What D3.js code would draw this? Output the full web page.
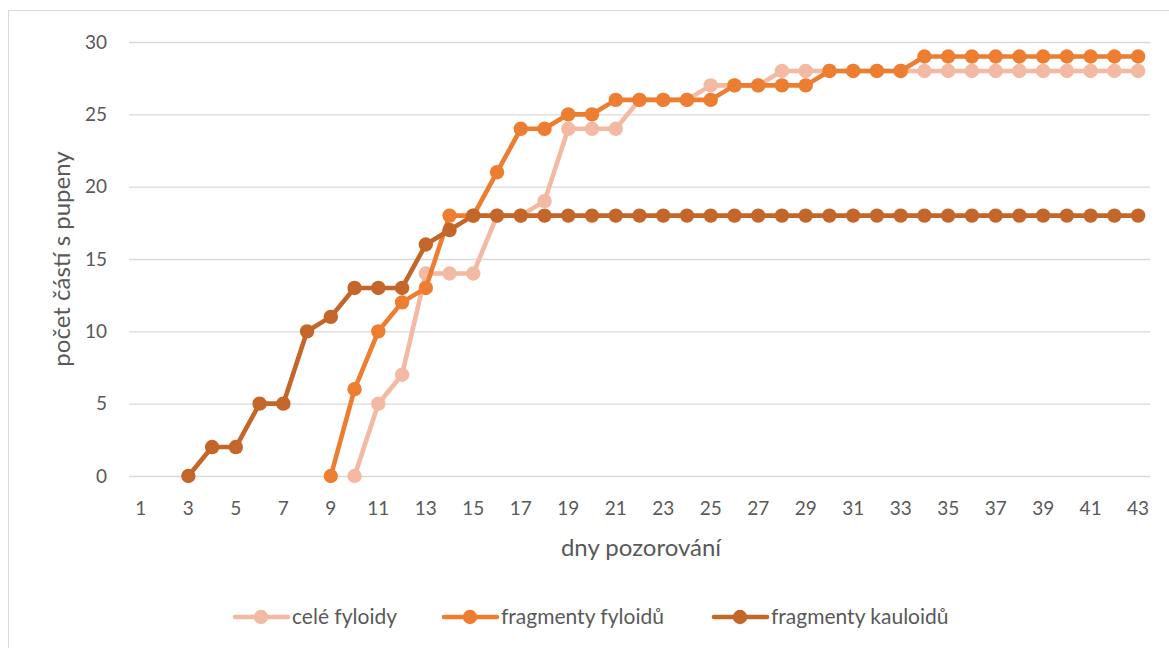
<!DOCTYPE html>
<html>
<head>
<meta charset="utf-8">
<script src="https://cdn.jsdelivr.net/npm/d3@7"></script>
<style>
body{margin:0;background:#fff;}
text{font-family:Lato,"Open Sans",sans-serif;fill:#595959;}
</style>
</head>
<body>
<svg width="1169" height="648"></svg>
<script>
// days 1..43
var days=[];
for(var d=1; d<=43; d++){ days.push(d); }
var yTicks=[0,5,10,15,20,25,30];

// values start at the given day, nothing before
var celeStart=10;
var celeVals=[0,5,7,14,14,14,18,18,19,24,24,24,26,26,26,27,27,27,28,28,28,28,28,28,28,28,28,28,28,28,28,28,28,28];
var fyloStart=9;
var fyloVals=[0,6,10,12,13,18,18,21,24,24,25,25,26,26,26,26,26,27,27,27,27,28,28,28,28,29,29,29,29,29,29,29,29,29,29];
var kauloStart=3;
var kauloVals=[0,2,2,5,5,10,11,13,13,13,16,17,18,18,18,18,18,18,18,18,18,18,18,18,18,18,18,18,18,18,18,18,18,18,18,18,18,18,18,18,18];

var names=["celé fyloidy","fragmenty fyloidů","fragmenty kauloidů"];
var colors=["#F4B9A2","#ED7D31","#C4662A"];

function toPoints(start,vals){
    var pts=[];
    for(var i=0;i<vals.length;i++){
        pts.push({day:start+i,v:vals[i]});
    }
    return pts;
}
var series=[toPoints(celeStart,celeVals),toPoints(fyloStart,fyloVals),toPoints(kauloStart,kauloVals)];

var svg=d3.select("svg");
// outer border
svg.append("rect")
    .attr("x",8.5).attr("y",10.5).attr("width",1170).attr("height",650)
    .attr("fill","none").attr("stroke","#D9D9D9");

var x=d3.scaleBand().domain(days).range([129,1150]);
var y=d3.scaleLinear().domain([0,30]).range([476,42]);
var cx=function(d){return x(d)+x.bandwidth()/2;};

// grid
svg.append("g").selectAll("line").data(yTicks).enter().append("line")
    .attr("x1",129).attr("x2",1150)
    .attr("y1",function(d){return y(d)+0.5;})
    .attr("y2",function(d){return y(d)+0.5;})
    .attr("stroke","#D9D9D9").attr("stroke-width",1.3);

// y labels
svg.append("g").selectAll("text").data(yTicks).enter().append("text")
    .attr("x",107).attr("y",function(d){return y(d);})
    .attr("dy","0.35em").attr("text-anchor","end")
    .style("font-size","19px")
    .text(function(d){return d;});

// x labels, odd days only
svg.append("g").selectAll("text").data(days.filter(function(d){return d%2==1;})).enter().append("text")
    .attr("x",cx).attr("y",508)
    .attr("dy","0.35em").attr("text-anchor","middle")
    .style("font-size","19px")
    .text(function(d){return d;});

// axis titles
svg.append("text").attr("x",641).attr("y",548).attr("dy","0.35em")
    .attr("text-anchor","middle").style("font-size","24px").text("dny pozorování");
svg.append("text").attr("transform","translate(62,259) rotate(-90)")
    .attr("dy","0.35em").attr("text-anchor","middle").style("font-size","24px").text("počet částí s pupeny");

var line=d3.line().x(function(p){return cx(p.day);}).y(function(p){return y(p.v);});

for(var s=0;s<series.length;s++){
    var g=svg.append("g");
    g.append("path").datum(series[s])
        .attr("d",line).attr("fill","none")
        .attr("stroke",colors[s]).attr("stroke-width",4.6)
        .attr("stroke-linejoin","round");
    g.selectAll("circle").data(series[s]).enter().append("circle")
        .attr("cx",function(p){return cx(p.day);})
        .attr("cy",function(p){return y(p.v);})
        .attr("r",7.2).attr("fill",colors[s]);
}

// legend
var legX=[233,442,712];
for(var s=0;s<names.length;s++){
    var lg=svg.append("g").attr("transform","translate("+legX[s]+",617)");
    lg.append("line").attr("x1",2).attr("x2",55).attr("y1",0).attr("y2",0)
        .attr("stroke",colors[s]).attr("stroke-width",4.6).attr("stroke-linecap","round");
    lg.append("circle").attr("cx",28).attr("cy",0).attr("r",7.2).attr("fill",colors[s]);
    lg.append("text").attr("x",59).attr("y",0).attr("dy","0.35em")
        .style("font-size","21px").text(names[s]);
}
</script>
</body>
</html>
